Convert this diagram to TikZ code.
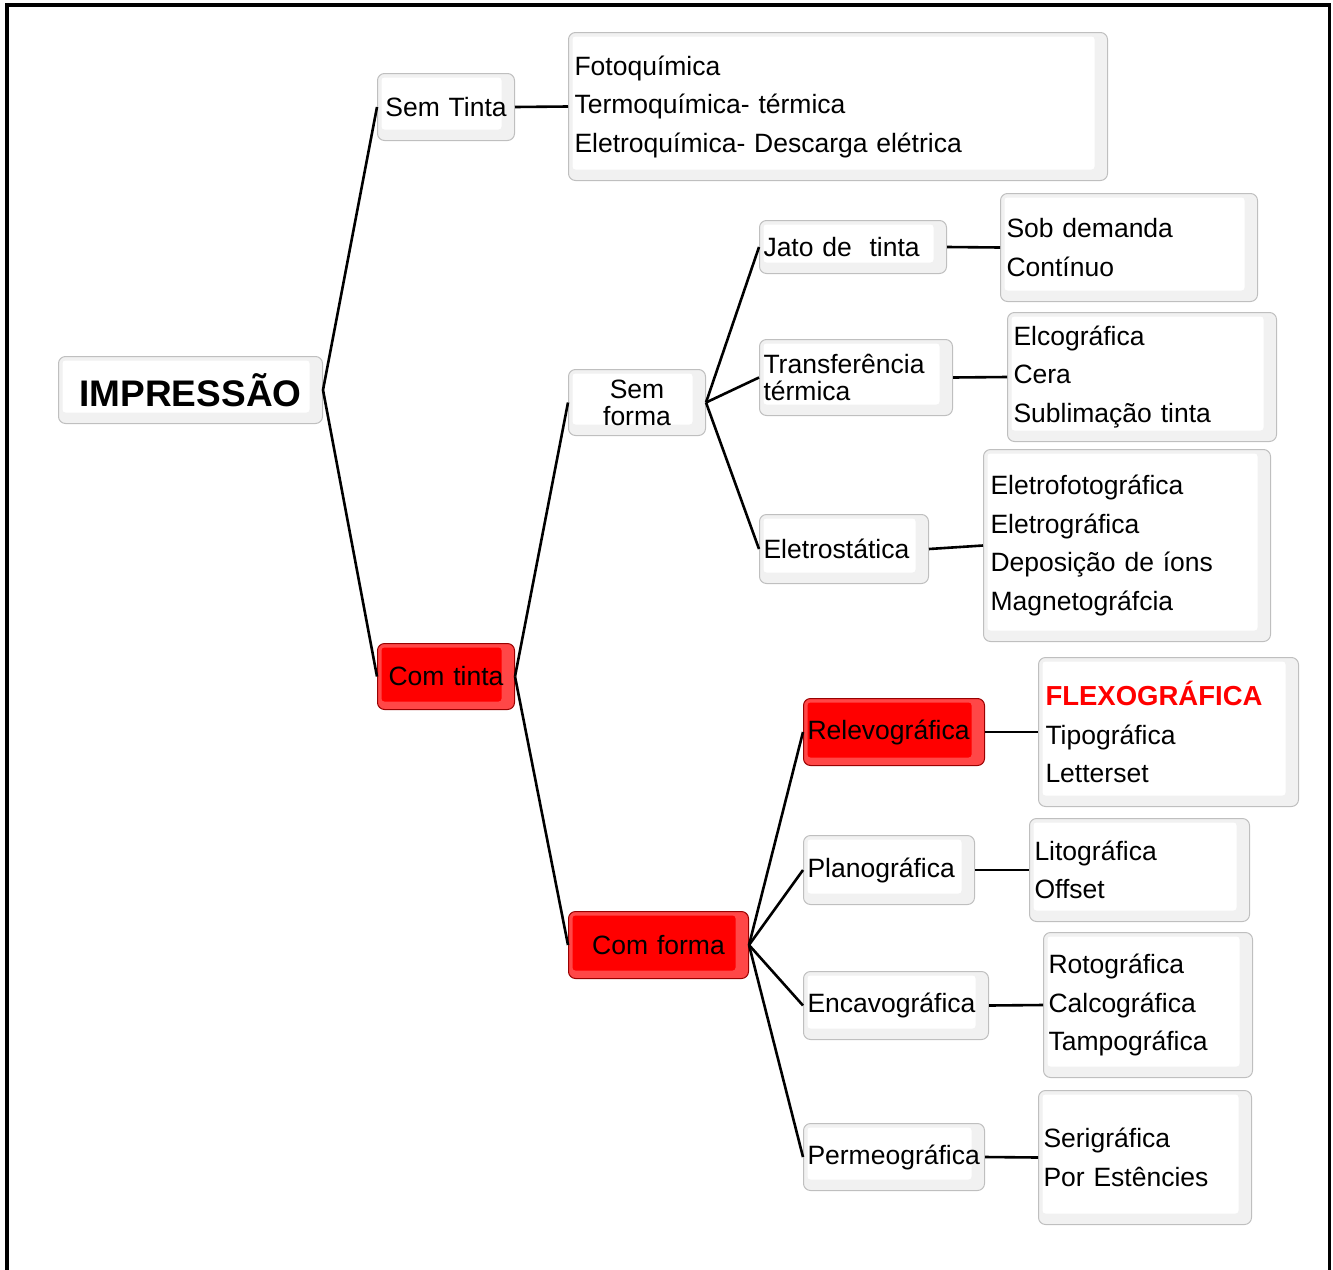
\documentclass[tikz,border=0pt]{standalone}
\usepackage{fontspec}
\setmainfont{Liberation Sans}
\tikzset{
  x=1pt, y=-1pt,
  base/.style={anchor=north west, rounded corners=7pt, line width=1pt, inner xsep=4pt, inner ysep=0pt,
    font=\fontsize{26.5}{38.5}\selectfont},
  bx/.style={base, draw=gray!50, fill=gray!11,
    path picture={\fill[white, rounded corners=3pt] ([shift={(4pt,-4pt)}]path picture bounding box.north west)
      rectangle ([shift={(-13pt,11pt)}]path picture bounding box.south east);}},
  rbx/.style={base, draw=red!60!black, fill=red!72!white,
    path picture={\fill[red, rounded corners=3pt] ([shift={(4pt,-4pt)}]path picture bounding box.north west)
      rectangle ([shift={(-13pt,8pt)}]path picture bounding box.south east);}},
  tight/.style={font=\fontsize{26.5}{27}\selectfont},
  conn/.style={line width=2.6pt, black},
}
\begin{document}
\begin{tikzpicture}
\useasboundingbox (0,0) rectangle (1333,1269);
\draw[line width=3.5pt] (7,1272) -- (7,5) -- (1329.5,5) -- (1329.5,1272);

% level 0
\node[bx, minimum width=264pt, minimum height=67pt, text width=256pt, align=center,
  font=\fontsize{37}{40}\selectfont\bfseries] (imp) at (58,356) {IMPRESSÃO};

% level 1
\node[bx, minimum width=137pt, minimum height=67pt, text width=129pt, align=center] (st) at (377,73) {Sem Tinta};
\node[rbx, minimum width=137pt, minimum height=66pt, text width=129pt, align=center] (ct) at (377,643) {Com tinta};

\node[bx, minimum width=539pt, minimum height=148pt, text width=527pt, align=left, inner xsep=6pt] (foto) at (568,32)
  {Fotoquímica\\Termoquímica- térmica\\Eletroquímica- Descarga elétrica};

% level 2
\node[bx, tight, minimum width=137pt, minimum height=66pt, text width=129pt, align=center] (sf) at (568,369) {Sem\\forma};
\node[rbx, minimum width=180pt, minimum height=67pt, text width=172pt, align=center] (cf) at (568,911) {Com forma};

% level 3 - sem forma
\node[bx, minimum width=187pt, minimum height=53pt, text width=179pt, align=left] (jato) at (759,220) {Jato de~ tinta};
\node[bx, tight, minimum width=193pt, minimum height=76pt, text width=185pt, align=left] (tr) at (759,339) {Transferência\\térmica};
\node[bx, minimum width=169pt, minimum height=69pt, text width=161pt, align=left] (ele) at (759,514) {Eletrostática};

\node[bx, minimum width=257pt, minimum height=108pt, text width=245pt, align=left, inner xsep=6pt] (sob) at (1000,193)
  {Sob demanda\\Contínuo};
\node[bx, minimum width=269pt, minimum height=129pt, text width=257pt, align=left, inner xsep=6pt] (elc) at (1007,312)
  {Elcográfica\\Cera\\Sublimação tinta};
\node[bx, minimum width=287pt, minimum height=192pt, text width=273pt, align=left, inner xsep=7pt] (efo) at (983,449)
  {Eletrofotográfica\\Eletrográfica\\Deposição de íons\\Magnetográfcia};

% level 3 - com forma
\node[rbx, minimum width=181pt, minimum height=67pt, text width=173pt, align=left] (rel) at (803,698) {Relevográfica};
\node[bx, minimum width=171pt, minimum height=69pt, text width=163pt, align=left] (pla) at (803,835) {Planográfica};
\node[bx, minimum width=185pt, minimum height=68pt, text width=177pt, align=left] (enc) at (803,971) {Encavográfica};
\node[bx, minimum width=181pt, minimum height=67pt, text width=173pt, align=left] (per) at (803,1123) {Permeográfica};

\node[bx, minimum width=260pt, minimum height=149pt, text width=246pt, align=left, inner xsep=7pt] (fle) at (1038,657)
  {{\color{red}\bfseries\fontsize{27.5}{38.5}\selectfont FLEXOGRÁFICA}\\Tipográfica\\Letterset};
\node[bx, minimum width=220pt, minimum height=103pt, text width=210pt, align=left, inner xsep=5pt] (lit) at (1029,818)
  {Litográfica\\Offset};
\node[bx, minimum width=209pt, minimum height=145pt, text width=199pt, align=left, inner xsep=5pt] (rot) at (1043,932)
  {Rotográfica\\Calcográfica\\Tampográfica};
\node[bx, minimum width=213pt, minimum height=134pt, text width=203pt, align=left, inner xsep=5pt] (ser) at (1038,1090)
  {Serigráfica\\Por Estêncies};

% connectors
\draw[conn] (imp.east) -- (st.west);
\draw[conn] (imp.east) -- (ct.west);
\draw[conn] (st.east) -- (foto.west);
\draw[conn] (ct.east) -- (sf.west);
\draw[conn] (ct.east) -- (cf.west);
\draw[conn] (sf.east) -- (jato.west);
\draw[conn] (sf.east) -- (tr.west);
\draw[conn] (sf.east) -- (ele.west);
\draw[conn] (jato.east) -- (sob.west);
\draw[conn] (tr.east) -- (elc.west);
\draw[conn] (ele.east) -- (efo.west);
\draw[conn] (cf.east) -- (rel.west);
\draw[conn] (cf.east) -- (pla.west);
\draw[conn] (cf.east) -- (enc.west);
\draw[conn] (cf.east) -- (per.west);
\draw[conn] (rel.east) -- (fle.west);
\draw[conn] (pla.east) -- (lit.west);
\draw[conn] (enc.east) -- (rot.west);
\draw[conn] (per.east) -- (ser.west);
\end{tikzpicture}
\end{document}
